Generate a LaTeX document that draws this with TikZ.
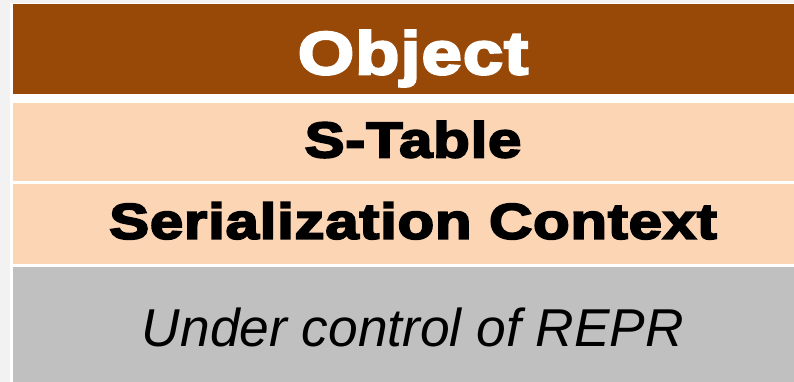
\documentclass[tikz,border=0pt]{standalone}
\usepackage{fontspec}
\setmainfont{Liberation Sans}
\newfontfamily\heavyfont[UprightFont={* Bold},FakeBold=4,FakeStretch=1.2,LetterSpace=1.5]{Liberation Sans}
\usetikzlibrary{positioning}
\definecolor{marron}{HTML}{984807}
\definecolor{melocoton}{HTML}{FCD5B5}
\definecolor{gris}{HTML}{C0C0C0}
\definecolor{fondo}{HTML}{F2F2F2}
\tikzstyle{capa} = [rectangle, minimum width=800pt, inner sep=0pt, text centered, text depth=0pt]
\tikzstyle{titulo} = [capa, minimum height=90pt, fill=marron, text=white, text height=50.3pt, font=\heavyfont\fontsize{60.5}{60.5}\selectfont]
\tikzstyle{tabla} = [capa, minimum height=78pt, fill=melocoton, text height=35.8pt, text depth=6pt, font=\heavyfont\fontsize{50}{50}\selectfont]
\tikzstyle{contexto} = [capa, minimum height=80pt, fill=melocoton, text height=35.8pt, text depth=6pt, font=\heavyfont\fontsize{50}{50}\selectfont]
\tikzstyle{repr} = [capa, minimum height=121pt, fill=gris, text height=38.1pt, font=\itshape\fontsize{53.3}{53.3}\selectfont]

\begin{document}
\begin{tikzpicture}[x=1pt, y=1pt]

\useasboundingbox (0,0) rectangle (794,-382);
% Fondo
\fill[fondo] (0,0) rectangle (794,-382);
\fill[white] (10,-3) rectangle (794,-382);

% Capas
\node (objeto) [titulo] at (413,-49) {Object};
\node (stabla) [tabla, below=9pt of objeto] {S-Table};
\node (contexto) [contexto, below=2pt of stabla] {Serialization Context};
\node (control) [repr, below=3pt of contexto] {Under control of REPR}; % se sale por abajo

\end{tikzpicture}
\end{document}
